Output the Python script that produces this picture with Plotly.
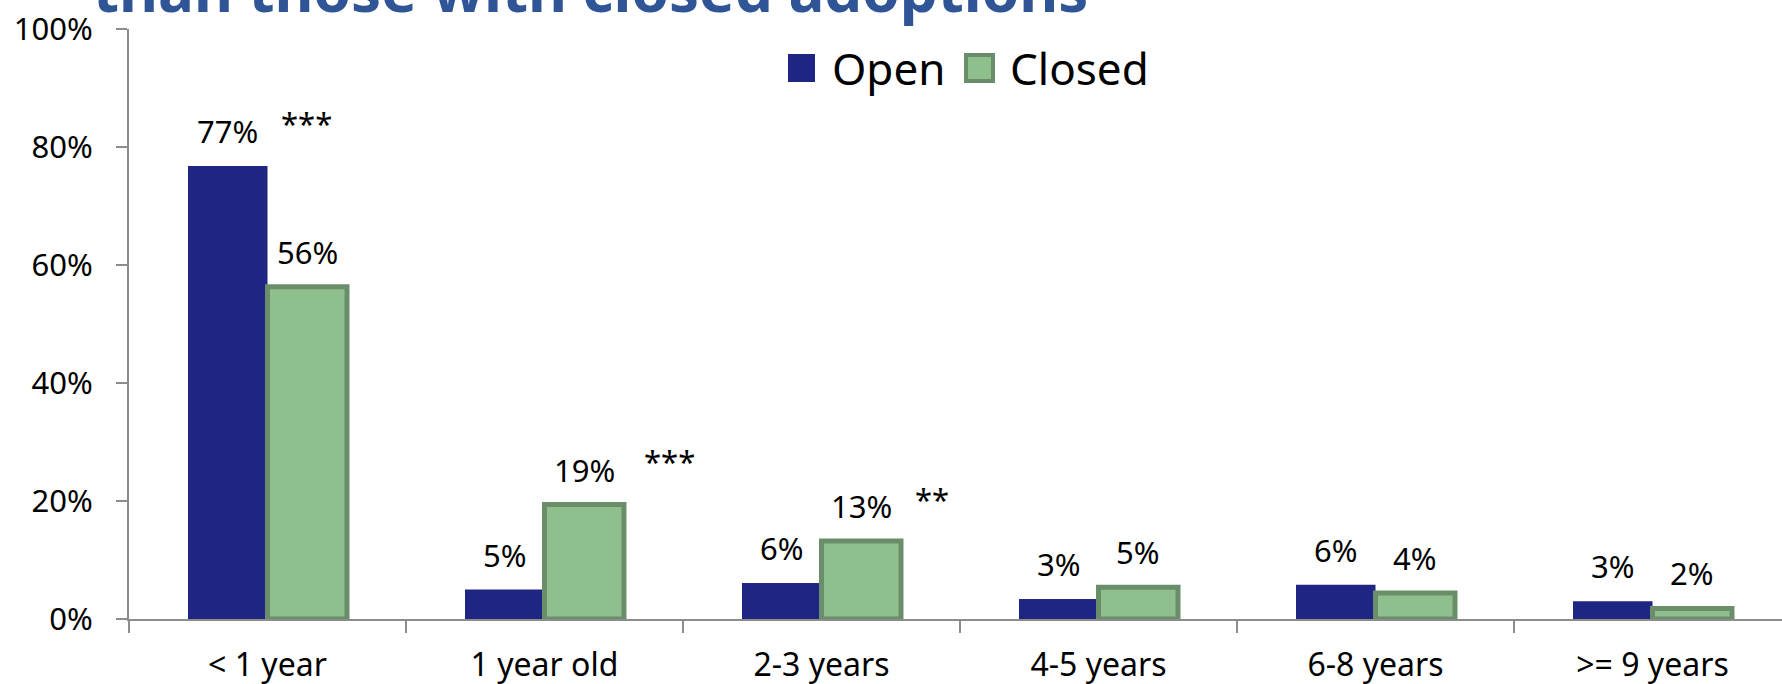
import plotly.graph_objects as go

categories = ["< 1 year", "1 year old", "2-3 years", "4-5 years", "6-8 years", ">= 9 years"]
open_pct = [76.8, 5.0, 6.1, 3.4, 5.8, 3.0]
closed_pct = [56.3, 19.4, 13.2, 5.4, 4.4, 1.8]
series_names = ["Open", "Closed"]
y_ticks = [0, 20, 40, 60, 80, 100]
title_text = "than those with closed adoptions"

OPEN_FILL = "#1E2582"
CLOSED_FILL = "#8FBF8D"
CLOSED_EDGE = "#6A8E6A"
AXIS = "#8C8C8C"
FONT = "Noto Sans"

W, H = 1782, 684
L, R, T, B = 129, 0, 29, 65
BARGAP = 0.426
half = (1 - BARGAP) / 2 / 2  # half of a single bar, category units
cat_px = 277.0
x_hi = -0.5 + (W - L - R) / cat_px

fig = go.Figure()
fig.add_trace(go.Bar(
    x=categories, y=open_pct, name=series_names[0],
    marker=dict(color=OPEN_FILL, line=dict(width=0)),
    showlegend=False,
))
fig.add_trace(go.Bar(
    x=categories, y=closed_pct, name=series_names[1],
    marker=dict(color=CLOSED_FILL, line=dict(color=CLOSED_EDGE, width=5)),
    showlegend=False,
))

annotations = []
# value labels above each bar
for i, (o, c) in enumerate(zip(open_pct, closed_pct)):
    for v, dx in ((o, -half), (c, half)):
        annotations.append(dict(
            x=i + dx, y=v, xref="x", yref="y", text=f"{v:.0f}%",
            showarrow=False, yanchor="bottom", yshift=12,
            font=dict(family=FONT, size=31, color="black"),
        ))

# significance markers (placed by hand, as in the source slide)
for x, y, s in ((0.139, 84.0, "***"), (1.453, 26.8, "***"), (2.40, 20.3, "**")):
    annotations.append(dict(
        x=x, y=y, xref="x", yref="y", text=s, showarrow=False,
        font=dict(family=FONT, size=31, color="black"),
    ))

# slide title, mostly cut off at the top
annotations.append(dict(
    x=(91 - L) / (W - L - R), y=1, xref="paper", yref="paper",
    xanchor="left", yanchor="bottom", text=f"<b>{title_text}</b>",
    showarrow=False, yshift=-3,
    font=dict(family=FONT, size=60, color="#2F5597"),
))


def px_x(p):
    return (p - L) / (W - L - R)


def px_y(p):
    return (H - B - p) / (H - T - B)


# legend drawn by hand so the swatches match the big square keys
shapes = [
    dict(type="rect", xref="paper", yref="paper",
         x0=px_x(788), x1=px_x(815), y0=px_y(82), y1=px_y(54),
         fillcolor=OPEN_FILL, line=dict(width=0)),
    dict(type="rect", xref="paper", yref="paper",
         x0=px_x(966), x1=px_x(993), y0=px_y(81), y1=px_y(55),
         fillcolor=CLOSED_FILL, line=dict(color=CLOSED_EDGE, width=4)),
]
for name, left in zip(series_names, (830, 1008)):
    annotations.append(dict(
        x=px_x(left), y=px_y(68), xref="paper", yref="paper",
        xanchor="left", yanchor="middle", text=name, showarrow=False,
        font=dict(family=FONT, size=44, color="black"),
    ))

fig.update_layout(
    width=W, height=H, autosize=False,
    margin=dict(l=L, r=R, t=T, b=B, pad=0),
    plot_bgcolor="white", paper_bgcolor="white",
    barmode="group", bargap=BARGAP, bargroupgap=0,
    annotations=annotations, shapes=shapes,
    showlegend=False,
)
fig.update_xaxes(
    type="category", range=[-0.5, x_hi], automargin=False,
    showline=True, linecolor=AXIS, linewidth=2,
    ticks="outside", tickson="boundaries", ticklen=12, tickcolor=AXIS, tickwidth=2,
    ticklabelstandoff=17,
    tickfont=dict(family=FONT, size=32, color="black"),
    showgrid=False, zeroline=False,
)
fig.update_yaxes(
    range=[0, 100], tickmode="array", tickvals=y_ticks, automargin=False,
    ticktext=[f"{v}%" for v in y_ticks],
    showline=True, linecolor=AXIS, linewidth=2,
    ticks="outside", ticklen=11, tickcolor=AXIS, tickwidth=2,
    ticklabelstandoff=17,
    tickfont=dict(family=FONT, size=31, color="black"),
    showgrid=False, zeroline=False,
)

fig.write_html("out.html", config={"displayModeBar": False},
               post_script="document.body.style.margin='0';")
